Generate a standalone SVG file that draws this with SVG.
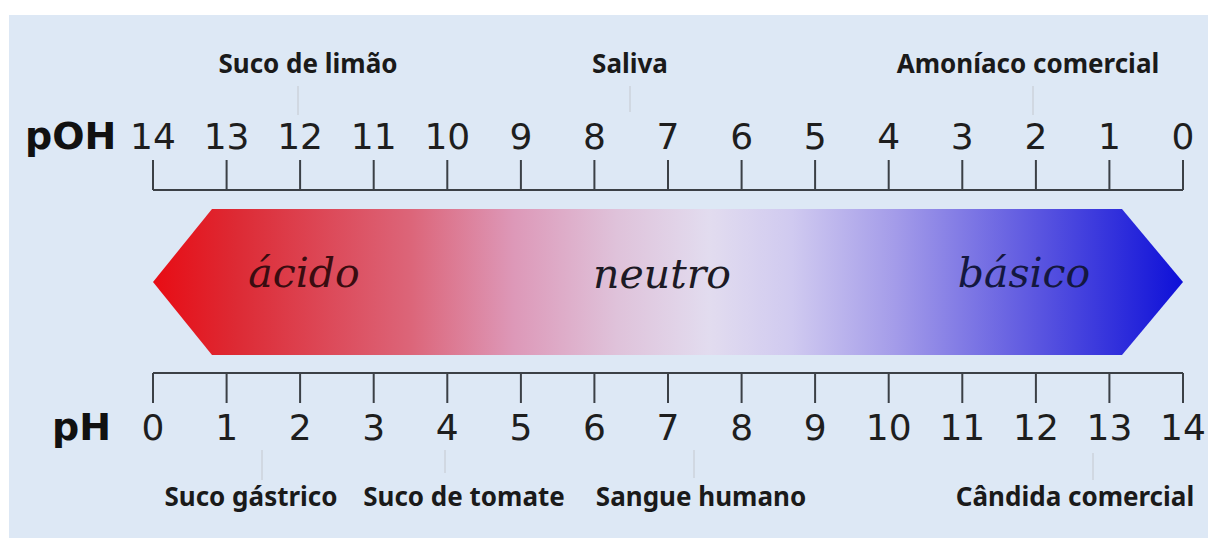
<svg xmlns="http://www.w3.org/2000/svg" width="1208" height="538" viewBox="0 0 1208 538">
<style>
.num{font-family:"DejaVu Sans",Verdana,sans-serif;font-size:36px;fill:#1e1e1e;text-anchor:middle}
.axl{font-family:"DejaVu Sans",sans-serif;font-weight:bold;font-size:38px;fill:#111}
.lab{font-family:"Noto Sans","Open Sans",sans-serif;font-weight:bold;font-size:26px;fill:#1a1a1a;text-anchor:middle}
.zone{font-family:"DejaVu Serif",serif;font-style:italic;font-size:41px;text-anchor:middle}
.ax{stroke:#3b4046;stroke-width:2;fill:none}
.lead{stroke:#c9ced6;stroke-width:1.2;fill:none}
</style>
<defs>
<linearGradient id="band" x1="153" y1="0" x2="1183" y2="0" gradientUnits="userSpaceOnUse">
<stop offset="0" stop-color="#e80c14"/>
<stop offset="0.08" stop-color="#dd2a34"/>
<stop offset="0.25" stop-color="#dc6579"/>
<stop offset="0.35" stop-color="#dd98b8"/>
<stop offset="0.45" stop-color="#dfc2da"/>
<stop offset="0.54" stop-color="#e2dcef"/>
<stop offset="0.62" stop-color="#d0caf0"/>
<stop offset="0.72" stop-color="#a49ce9"/>
<stop offset="0.86" stop-color="#5a55e0"/>
<stop offset="1" stop-color="#0e10d8"/>
</linearGradient>
</defs>
<rect x="0" y="0" width="1208" height="538" fill="#ffffff"/>
<rect x="9" y="15" width="1199" height="523" fill="#dde8f5"/>

<g id="band-arrow">
<polygon points="153,282 212,209 1122,209 1183,282 1122,355 212,355" fill="url(#band)"/>
<text class="zone" x="304" y="287" fill="#3a0c10">ácido</text>
<text class="zone" x="662" y="288" fill="#1c1a24">neutro</text>
<text class="zone" x="1024" y="287" fill="#141840">básico</text>
</g>

<g id="poh-axis">
<text class="axl" x="25" y="149">pOH</text>
<path class="ax" d="M153,190H1183M153,160V190M226.6,160V190M300.1,160V190M373.7,160V190M447.3,160V190M520.9,160V190M594.4,160V190M668,160V190M741.6,160V190M815.1,160V190M888.7,160V190M962.3,160V190M1035.9,160V190M1109.4,160V190M1183,160V190"/>
<text class="num" x="153" y="149">14</text>
<text class="num" x="226.6" y="149">13</text>
<text class="num" x="300.1" y="149">12</text>
<text class="num" x="373.7" y="149">11</text>
<text class="num" x="447.3" y="149">10</text>
<text class="num" x="520.9" y="149">9</text>
<text class="num" x="594.4" y="149">8</text>
<text class="num" x="668" y="149">7</text>
<text class="num" x="741.6" y="149">6</text>
<text class="num" x="815.1" y="149">5</text>
<text class="num" x="888.7" y="149">4</text>
<text class="num" x="962.3" y="149">3</text>
<text class="num" x="1035.9" y="149">2</text>
<text class="num" x="1109.4" y="149">1</text>
<text class="num" x="1183" y="149">0</text>
</g>

<g id="ph-axis">
<text class="axl" x="52" y="440">pH</text>
<path class="ax" d="M153,373H1183M153,373V403M226.6,373V403M300.1,373V403M373.7,373V403M447.3,373V403M520.9,373V403M594.4,373V403M668,373V403M741.6,373V403M815.1,373V403M888.7,373V403M962.3,373V403M1035.9,373V403M1109.4,373V403M1183,373V403"/>
<text class="num" x="153" y="440">0</text>
<text class="num" x="226.6" y="440">1</text>
<text class="num" x="300.1" y="440">2</text>
<text class="num" x="373.7" y="440">3</text>
<text class="num" x="447.3" y="440">4</text>
<text class="num" x="520.9" y="440">5</text>
<text class="num" x="594.4" y="440">6</text>
<text class="num" x="668" y="440">7</text>
<text class="num" x="741.6" y="440">8</text>
<text class="num" x="815.1" y="440">9</text>
<text class="num" x="888.7" y="440">10</text>
<text class="num" x="962.3" y="440">11</text>
<text class="num" x="1035.9" y="440">12</text>
<text class="num" x="1109.4" y="440">13</text>
<text class="num" x="1183" y="440">14</text>
</g>

<g id="connectors">
<path class="lead" d="M298,86V115M630,86V112M1033,86V115M262,450V480M445,450V473M694,450V478M1093,453V480"/>
</g>

<g id="label-suco-limao"><text class="lab" x="308" y="73">Suco de limão</text></g>
<g id="label-saliva"><text class="lab" x="630" y="73">Saliva</text></g>
<g id="label-amoniaco"><text class="lab" x="1028" y="73">Amoníaco comercial</text></g>
<g id="label-suco-gastrico"><text class="lab" x="251" y="506">Suco gástrico</text></g>
<g id="label-suco-tomate"><text class="lab" x="464" y="506">Suco de tomate</text></g>
<g id="label-sangue"><text class="lab" x="701" y="506">Sangue humano</text></g>
<g id="label-candida"><text class="lab" x="1075" y="506">Cândida comercial</text></g>
</svg>
